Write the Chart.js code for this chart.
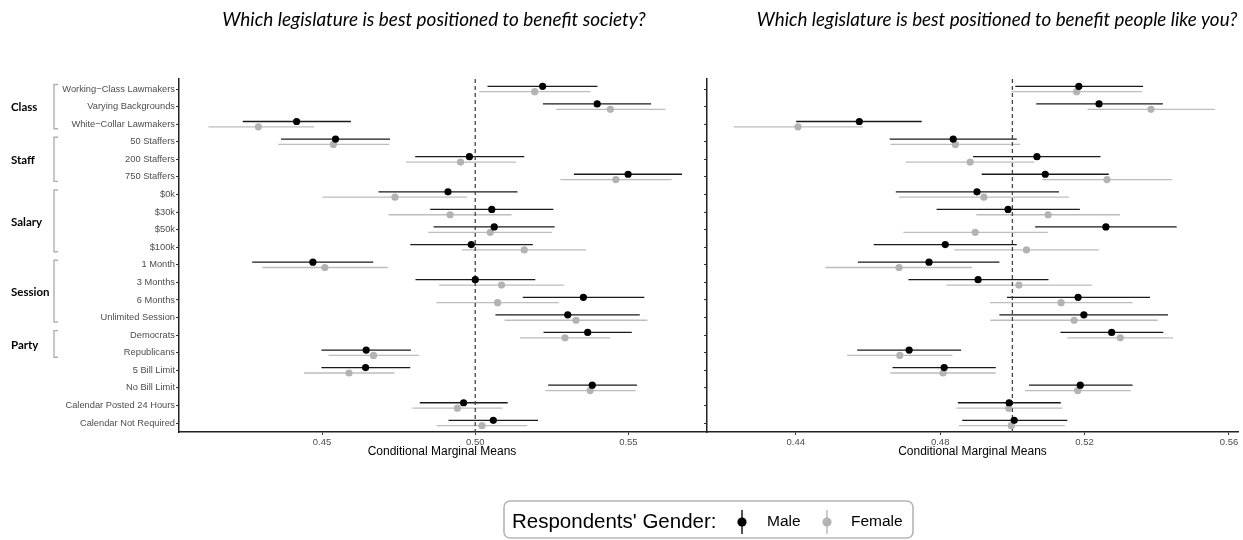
<!DOCTYPE html>
<html><head><meta charset="utf-8">
<script src="https://cdn.jsdelivr.net/npm/chart.js@4/dist/chart.umd.min.js"></script>
<style>
html,body{margin:0;padding:0;background:#fff;width:1243px;height:540px;overflow:hidden}
canvas{position:absolute;left:0;top:0}
</style></head>
<body>
<canvas id="c1" width="1243" height="540"></canvas>
<canvas id="c2" width="1243" height="540"></canvas>
<script>
// ---------- data ----------
const rowLabels = ['Working\u2212Class Lawmakers','Varying Backgrounds','White\u2212Collar Lawmakers',
  '50 Staffers','200 Staffers','750 Staffers',
  '$0k','$30k','$50k','$100k',
  '1 Month','3 Months','6 Months','Unlimited Session',
  'Democrats','Republicans',
  '5 Bill Limit','No Bill Limit','Calendar Posted 24 Hours','Calendar Not Required'];
const groupNames = ['Class','Staff','Salary','Session','Party'];
const groupFirst = [0,3,6,10,14];
const groupLast  = [2,5,9,13,15];

const titleSociety = 'Which legislature is best positioned to benefit society?';
const titlePeople  = 'Which legislature is best positioned to benefit people like you?';
const axisTitle = 'Conditional Marginal Means';
const seriesNames = ['Male','Female'];
const legendTitle = "Respondents' Gender:";
const societyTicks = [0.45, 0.50, 0.55];
const peopleTicks  = [0.44, 0.48, 0.52, 0.56];
const refValue = 0.5;

// Panel 1: benefit society
const socMale   = [0.5220,0.5398,0.4417,0.4544,0.4981,0.5499,0.4911,0.5054,0.5062,0.4987,0.4470,0.5000,0.5353,0.5302,0.5367,0.4644,0.4642,0.5382,0.4962,0.5059];
const socMaleLo = [0.5040,0.5221,0.4241,0.4366,0.4804,0.5322,0.4684,0.4853,0.4864,0.4788,0.4272,0.4805,0.5155,0.5066,0.5223,0.4498,0.4498,0.5238,0.4819,0.4913];
const socMaleHi = [0.5399,0.5574,0.4594,0.4722,0.5160,0.5675,0.5138,0.5255,0.5259,0.5188,0.4667,0.5196,0.5552,0.5537,0.5511,0.4790,0.4788,0.5528,0.5106,0.5205];
const socFem    = [0.5194,0.5441,0.4292,0.4537,0.4952,0.5459,0.4738,0.4918,0.5049,0.5160,0.4509,0.5086,0.5073,0.5329,0.5293,0.4668,0.4588,0.5375,0.4942,0.5022];
const socFemLo  = [0.5013,0.5264,0.4129,0.4357,0.4774,0.5278,0.4501,0.4717,0.4847,0.4956,0.4305,0.4882,0.4873,0.5096,0.5146,0.4521,0.4441,0.5229,0.4795,0.4874];
const socFemHi  = [0.5376,0.5621,0.4474,0.4719,0.5133,0.5641,0.4973,0.5119,0.5251,0.5362,0.4715,0.5289,0.5273,0.5562,0.5441,0.4817,0.4736,0.5524,0.5089,0.5170];

// Panel 2: benefit people like you
const pplMale   = [0.5184,0.5240,0.4576,0.4836,0.5068,0.5091,0.4902,0.4988,0.5259,0.4814,0.4769,0.4905,0.5182,0.5198,0.5275,0.4714,0.4811,0.5188,0.4991,0.5005];
const pplMaleLo = [0.5008,0.5066,0.4401,0.4660,0.4891,0.4915,0.4677,0.4790,0.5063,0.4616,0.4572,0.4712,0.4985,0.4964,0.5133,0.4570,0.4668,0.5046,0.4849,0.4861];
const pplMaleHi = [0.5362,0.5417,0.4749,0.5012,0.5244,0.5267,0.5129,0.5187,0.5455,0.5012,0.4964,0.5100,0.5381,0.5431,0.5418,0.4858,0.4954,0.5333,0.5134,0.5152];
const pplFem    = [0.5178,0.5384,0.4406,0.4842,0.4883,0.5262,0.4921,0.5099,0.4897,0.5039,0.4686,0.5018,0.5135,0.5171,0.5299,0.4688,0.4808,0.5181,0.4990,0.4997];
const pplFemLo  = [0.4997,0.5208,0.4228,0.4662,0.4705,0.5082,0.4686,0.4900,0.4698,0.4839,0.4482,0.4817,0.4938,0.4939,0.5152,0.4542,0.4662,0.5035,0.4845,0.4852];
const pplFemHi  = [0.5359,0.5561,0.4586,0.5021,0.5061,0.5442,0.5156,0.5298,0.5098,0.5240,0.4888,0.5220,0.5333,0.5403,0.5445,0.4834,0.4954,0.5328,0.5138,0.5146];

// ---------- styling ----------
const SANS = '"Liberation Sans", Arial, Helvetica, sans-serif';
const MALE_COL = '#000000', FEM_COL = '#b3b3b3';
const MALE_BAR = '#1a1a1a', FEM_BAR = '#bdbdbd';
const DODGE = 0.153;
Chart.defaults.font.family = SANS;

function makeDatasets(m, mlo, mhi, f, flo, fhi){
  return [
    {label: seriesNames[0], data: m.map((v,i)=>({x:v, y:i - DODGE})), errLo: mlo, errHi: mhi,
     barColor: MALE_BAR, backgroundColor: MALE_COL, pointRadius: 3.6, borderWidth: 0, pointHoverRadius: 3.6},
    {label: seriesNames[1], data: f.map((v,i)=>({x:v, y:i + DODGE})), errLo: flo, errHi: fhi,
     barColor: FEM_BAR, backgroundColor: FEM_COL, pointRadius: 3.6, borderWidth: 0, pointHoverRadius: 3.6}
  ];
}

function fitFont(ctx, text, style, family, targetW){
  ctx.font = style + ' 20px ' + family;
  const w = ctx.measureText(text).width;
  return 20 * targetW / w;
}

const errorBars = {
  id: 'errorBars',
  beforeDatasetsDraw(chart){
    const {ctx, chartArea: a, scales: {x, y}} = chart;
    ctx.save();
    chart.data.datasets.forEach(ds=>{
      ctx.strokeStyle = ds.barColor; ctx.lineWidth = 1.3;
      ds.data.forEach((p,i)=>{
        const yy = y.getPixelForValue(p.y);
        ctx.beginPath();
        ctx.moveTo(x.getPixelForValue(ds.errLo[i]), yy);
        ctx.lineTo(x.getPixelForValue(ds.errHi[i]), yy);
        ctx.stroke();
      });
    });
    const xr = x.getPixelForValue(refValue);
    ctx.strokeStyle = '#444'; ctx.lineWidth = 1.3; ctx.setLineDash([4,3]);
    ctx.beginPath(); ctx.moveTo(xr, a.top); ctx.lineTo(xr, a.bottom); ctx.stroke();
    ctx.restore();
  }
};

const leftDecor = {
  id: 'leftDecor',
  afterDraw(chart){
    const {ctx, scales: {y}} = chart;
    ctx.save();
    // title
    const fs = fitFont(ctx, titleSociety, 'italic', 'Lato', 424);
    ctx.font = 'italic ' + fs + 'px Lato';
    ctx.fillStyle = '#000'; ctx.textAlign = 'center'; ctx.textBaseline = 'middle';
    ctx.fillText(titleSociety, 434, 20);
    // group labels + brackets
    ctx.textAlign = 'left';
    ctx.font = 'bold 11.5px Lato';
    groupNames.forEach((g,k)=>{
      const y0 = y.getPixelForValue(groupFirst[k]) - 4.5;
      const y1 = y.getPixelForValue(groupLast[k]) + 4.5;
      ctx.fillStyle = '#000';
      ctx.fillText(g, 11, (y0 + y1)/2 + 1);
      ctx.strokeStyle = '#b0b0b0'; ctx.lineWidth = 1.4;
      ctx.beginPath();
      ctx.moveTo(58, y0); ctx.lineTo(54, y0); ctx.lineTo(54, y1); ctx.lineTo(58, y1);
      ctx.stroke();
    });
    ctx.restore();
  }
};

const rightDecor = {
  id: 'rightDecor',
  afterDraw(chart){
    const {ctx} = chart;
    ctx.save();
    const fs = fitFont(ctx, titlePeople, 'italic', 'Lato', 481);
    ctx.font = 'italic ' + fs + 'px Lato';
    ctx.fillStyle = '#000'; ctx.textAlign = 'center'; ctx.textBaseline = 'middle';
    ctx.fillText(titlePeople, 997, 20);
    // legend
    ctx.strokeStyle = '#b5b5b5'; ctx.lineWidth = 1.6;
    ctx.beginPath(); ctx.roundRect(504, 501, 409, 37, 6); ctx.stroke();
    ctx.textAlign = 'left';
    ctx.font = '20.5px ' + SANS;
    ctx.fillText(legendTitle, 512, 522);
    const items = [{x:742, col:MALE_COL, bar:MALE_BAR, tx:767}, {x:827, col:FEM_COL, bar:FEM_BAR, tx:851}];
    items.forEach((it,k)=>{
      ctx.strokeStyle = it.bar; ctx.lineWidth = 1.5;
      ctx.beginPath(); ctx.moveTo(it.x, 510); ctx.lineTo(it.x, 534); ctx.stroke();
      ctx.fillStyle = it.col;
      ctx.beginPath(); ctx.arc(it.x, 522, 4.6, 0, Math.PI*2); ctx.fill();
      ctx.fillStyle = '#000';
      ctx.font = '15.5px ' + SANS;
      ctx.fillText(seriesNames[k], it.tx, 522);
    });
    ctx.restore();
  }
};

function scalesFor(xmin, xmax, ticks, yWidth, showLabels){
  return {
    x: {
      type: 'linear', min: xmin, max: xmax,
      afterBuildTicks: s => { s.ticks = ticks.map(v=>({value:v})); },
      afterFit: s => { s.height = 30; s.paddingLeft = 0; s.paddingRight = 0; },
      ticks: { callback: v => Number(v).toFixed(2), color: '#4d4d4d', font: {size: 9.5}, padding: 2, maxRotation: 0, autoSkip: false },
      grid: { display: true, drawOnChartArea: false, drawTicks: true, tickLength: 3, color: '#333', lineWidth: 1 },
      border: { display: true, color: '#222', width: 1.5 },
      title: { display: true, text: axisTitle, color: '#000', font: {size: 12}, padding: {top: 2, bottom: 3} }
    },
    y: {
      type: 'linear', min: -0.57, max: 19.51, reverse: true,
      afterBuildTicks: s => { s.ticks = rowLabels.map((_,i)=>({value:i})); },
      afterFit: s => { s.width = yWidth; s.paddingTop = 0; s.paddingBottom = 0; },
      ticks: { callback: (v) => showLabels ? rowLabels[Math.round(v)] : '', color: '#4d4d4d', font: {size: 9.3}, padding: 1, autoSkip: false },
      grid: { display: true, drawOnChartArea: false, drawTicks: true, tickLength: 3, color: '#333', lineWidth: 1 },
      border: { display: true, color: '#222', width: 1.5 }
    }
  };
}

const common = {
  responsive: false, animation: false, devicePixelRatio: 1,
  plugins: { legend: {display: false}, tooltip: {enabled: false}, title: {display: false} },
  events: []
};

new Chart(document.getElementById('c1'), {
  type: 'scatter',
  data: { datasets: makeDatasets(socMale, socMaleLo, socMaleHi, socFem, socFemLo, socFemHi) },
  options: Object.assign({}, common, {
    layout: { padding: {left: 0, top: 79, right: 538, bottom: 78} },
    scales: scalesFor(0.4033, 0.575, societyTicks, 179, true)
  }),
  plugins: [errorBars, leftDecor]
});

new Chart(document.getElementById('c2'), {
  type: 'scatter',
  data: { datasets: makeDatasets(pplMale, pplMaleLo, pplMaleHi, pplFem, pplFemLo, pplFemHi) },
  options: Object.assign({}, common, {
    layout: { padding: {left: 0, top: 79, right: 5, bottom: 78} },
    scales: scalesFor(0.4154, 0.5625, peopleTicks, 707, false)
  }),
  plugins: [errorBars, rightDecor]
});
</script>
</body></html>
